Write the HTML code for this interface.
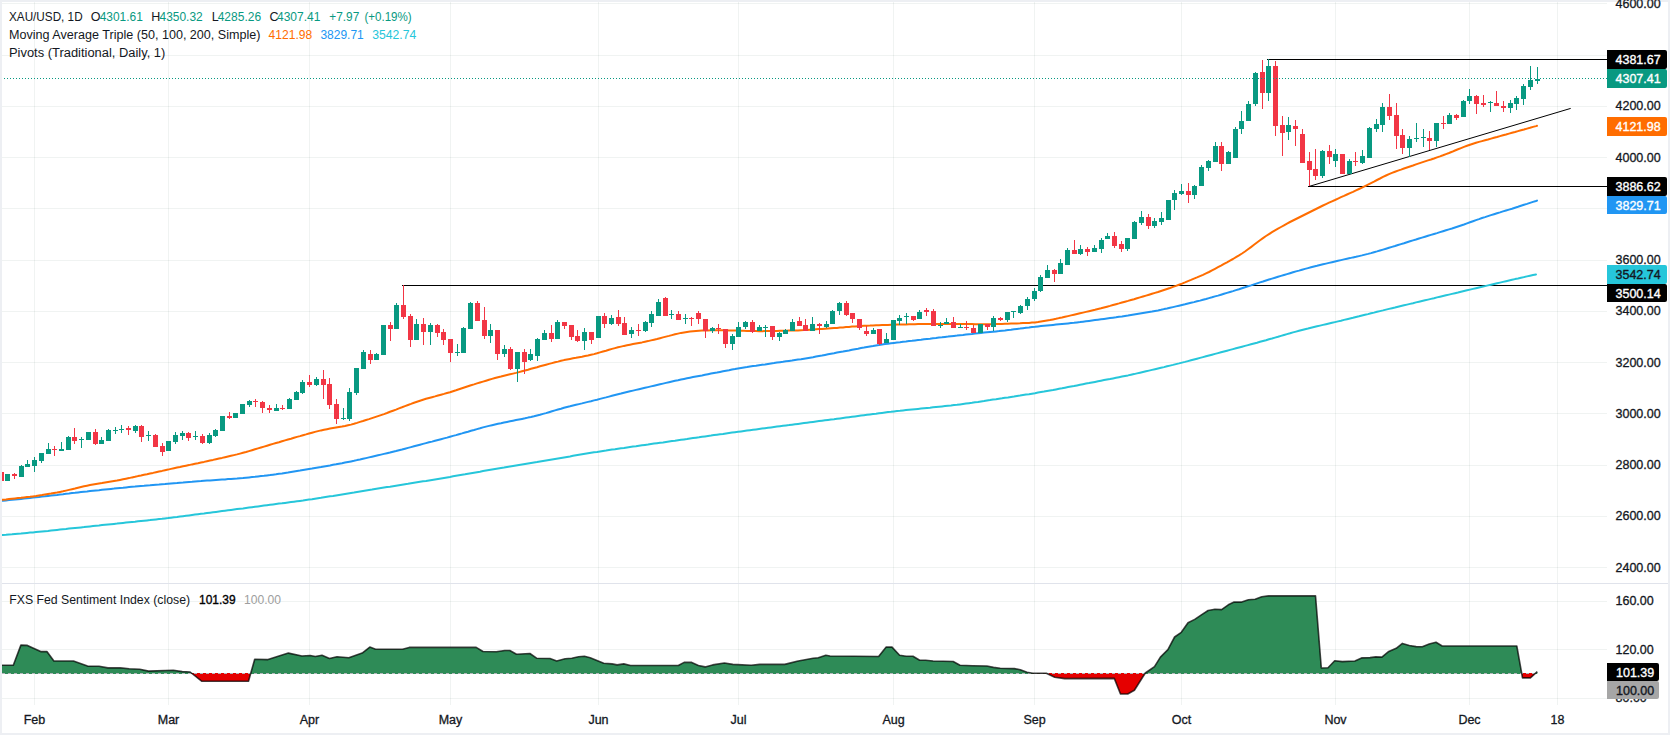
<!DOCTYPE html><html><head><meta charset="utf-8"><style>
html,body{margin:0;padding:0;background:#fff;}body{width:1670px;height:735px;overflow:hidden;}
svg{display:block;}text{font-family:"Liberation Sans", sans-serif;}
</style></head><body>
<svg width="1670" height="735" viewBox="0 0 1670 735">
<rect x="0" y="0" width="1670" height="735" fill="#fff"/>
<defs><clipPath id="main"><rect x="2" y="2" width="1605" height="581"/></clipPath>
<clipPath id="ind"><rect x="2" y="584" width="1605" height="121"/></clipPath></defs>
<g shape-rendering="crispEdges" fill="rgb(30,75,60)" fill-opacity="0.065">
<rect x="2" y="567" width="1605" height="1"/>
<rect x="2" y="516" width="1605" height="1"/>
<rect x="2" y="465" width="1605" height="1"/>
<rect x="2" y="413" width="1605" height="1"/>
<rect x="2" y="362" width="1605" height="1"/>
<rect x="2" y="311" width="1605" height="1"/>
<rect x="2" y="260" width="1605" height="1"/>
<rect x="2" y="208" width="1605" height="1"/>
<rect x="2" y="157" width="1605" height="1"/>
<rect x="2" y="106" width="1605" height="1"/>
<rect x="2" y="55" width="1605" height="1"/>
<rect x="2" y="3" width="1605" height="1"/>
<rect x="2" y="601" width="1605" height="1"/>
<rect x="2" y="649" width="1605" height="1"/>
<rect x="2" y="698" width="1605" height="1"/>
<rect x="34" y="2" width="1" height="703"/>
<rect x="168" y="2" width="1" height="703"/>
<rect x="309" y="2" width="1" height="703"/>
<rect x="450" y="2" width="1" height="703"/>
<rect x="598" y="2" width="1" height="703"/>
<rect x="738" y="2" width="1" height="703"/>
<rect x="893" y="2" width="1" height="703"/>
<rect x="1034" y="2" width="1" height="703"/>
<rect x="1181" y="2" width="1" height="703"/>
<rect x="1335" y="2" width="1" height="703"/>
<rect x="1469" y="2" width="1" height="703"/>
<rect x="1557" y="2" width="1" height="703"/>
</g>
<g clip-path="url(#main)" stroke="#000" stroke-width="1" fill="none">
<line x1="402" y1="285.5" x2="1607" y2="285.5" shape-rendering="crispEdges"/>
<line x1="1267" y1="59.5" x2="1607" y2="59.5" shape-rendering="crispEdges"/>
<line x1="1308" y1="186.5" x2="1607" y2="186.5" shape-rendering="crispEdges"/>
<line x1="1309.5" y1="186.3" x2="1570.7" y2="108.4"/>
</g>
<g clip-path="url(#main)" fill="none" stroke-width="2" stroke-linejoin="round" stroke-linecap="round">
<polyline points="0.0,535.3 3.0,535.0 6.0,534.8 9.0,534.5 12.0,534.3 15.0,534.0 18.0,533.7 21.0,533.5 24.0,533.2 27.0,532.9 30.0,532.6 33.0,532.4 36.0,532.1 39.0,531.8 42.0,531.5 45.0,531.2 48.0,530.9 51.0,530.5 54.0,530.2 57.0,529.9 60.0,529.6 63.0,529.3 66.0,529.0 69.0,528.6 72.0,528.3 75.0,528.0 78.0,527.7 81.0,527.4 84.0,527.1 87.0,526.7 90.0,526.4 93.0,526.1 96.0,525.8 99.0,525.5 102.0,525.1 105.0,524.8 108.0,524.5 111.0,524.2 114.0,523.9 117.0,523.6 120.0,523.2 123.0,522.9 126.0,522.6 129.0,522.3 132.0,522.0 135.0,521.7 138.0,521.3 141.0,521.0 144.0,520.7 147.0,520.4 150.0,520.1 153.0,519.7 156.0,519.4 159.0,519.1 162.0,518.8 165.0,518.4 168.0,518.1 171.0,517.7 174.0,517.3 177.0,517.0 180.0,516.6 183.0,516.2 186.0,515.8 189.0,515.4 192.0,515.0 195.0,514.6 198.0,514.2 201.0,513.8 204.0,513.5 207.0,513.1 210.0,512.7 213.0,512.3 216.0,511.9 219.0,511.5 222.0,511.1 225.0,510.7 228.0,510.3 231.0,509.9 234.0,509.5 237.0,509.1 240.0,508.7 243.0,508.4 246.0,508.0 249.0,507.6 252.0,507.2 255.0,506.8 258.0,506.4 261.0,506.0 264.0,505.6 267.0,505.2 270.0,504.8 273.0,504.4 276.0,504.0 279.0,503.6 282.0,503.3 285.0,502.9 288.0,502.5 291.0,502.1 294.0,501.7 297.0,501.3 300.0,500.9 303.0,500.5 306.0,500.0 309.0,499.6 312.0,499.2 315.0,498.7 318.0,498.2 321.0,497.8 324.0,497.3 327.0,496.8 330.0,496.3 333.0,495.9 336.0,495.4 339.0,494.9 342.0,494.4 345.0,493.9 348.0,493.4 351.0,492.9 354.0,492.5 357.0,492.0 360.0,491.5 363.0,491.0 366.0,490.5 369.0,490.0 372.0,489.6 375.0,489.1 378.0,488.6 381.0,488.1 384.0,487.6 387.0,487.1 390.0,486.7 393.0,486.2 396.0,485.7 399.0,485.2 402.0,484.7 405.0,484.2 408.0,483.8 411.0,483.3 414.0,482.8 417.0,482.3 420.0,481.8 423.0,481.3 426.0,480.9 429.0,480.4 432.0,479.9 435.0,479.4 438.0,478.9 441.0,478.4 444.0,477.9 447.0,477.4 450.0,476.9 453.0,476.3 456.0,475.8 459.0,475.3 462.0,474.8 465.0,474.3 468.0,473.7 471.0,473.2 474.0,472.7 477.0,472.2 480.0,471.7 483.0,471.1 486.0,470.6 489.0,470.1 492.0,469.6 495.0,469.1 498.0,468.6 501.0,468.1 504.0,467.6 507.0,467.0 510.0,466.5 513.0,466.0 516.0,465.5 519.0,465.0 522.0,464.5 525.0,464.0 528.0,463.5 531.0,463.0 534.0,462.5 537.0,462.0 540.0,461.4 543.0,460.9 546.0,460.4 549.0,459.9 552.0,459.4 555.0,458.9 558.0,458.4 561.0,457.9 564.0,457.4 567.0,456.9 570.0,456.4 573.0,455.8 576.0,455.3 579.0,454.8 582.0,454.3 585.0,453.8 588.0,453.3 591.0,452.8 594.0,452.3 597.0,451.9 600.0,451.4 603.0,450.9 606.0,450.5 609.0,450.0 612.0,449.6 615.0,449.2 618.0,448.7 621.0,448.3 624.0,447.9 627.0,447.4 630.0,447.0 633.0,446.6 636.0,446.2 639.0,445.7 642.0,445.3 645.0,444.9 648.0,444.5 651.0,444.0 654.0,443.6 657.0,443.2 660.0,442.8 663.0,442.4 666.0,441.9 669.0,441.5 672.0,441.1 675.0,440.7 678.0,440.2 681.0,439.8 684.0,439.4 687.0,439.0 690.0,438.5 693.0,438.1 696.0,437.7 699.0,437.3 702.0,436.8 705.0,436.4 708.0,436.0 711.0,435.6 714.0,435.1 717.0,434.7 720.0,434.3 723.0,433.9 726.0,433.4 729.0,433.0 732.0,432.6 735.0,432.2 738.0,431.8 741.0,431.4 744.0,431.0 747.0,430.6 750.0,430.2 753.0,429.8 756.0,429.4 759.0,429.0 762.0,428.6 765.0,428.2 768.0,427.8 771.0,427.4 774.0,427.0 777.0,426.6 780.0,426.2 783.0,425.8 786.0,425.4 789.0,425.1 792.0,424.7 795.0,424.3 798.0,423.9 801.0,423.5 804.0,423.1 807.0,422.7 810.0,422.3 813.0,421.9 816.0,421.5 819.0,421.1 822.0,420.7 825.0,420.3 828.0,419.9 831.0,419.5 834.0,419.2 837.0,418.8 840.0,418.4 843.0,418.0 846.0,417.6 849.0,417.2 852.0,416.8 855.0,416.4 858.0,416.0 861.0,415.6 864.0,415.2 867.0,414.8 870.0,414.4 873.0,414.0 876.0,413.7 879.0,413.3 882.0,412.9 885.0,412.5 888.0,412.1 891.0,411.8 894.0,411.4 897.0,411.1 900.0,410.8 903.0,410.4 906.0,410.1 909.0,409.8 912.0,409.5 915.0,409.2 918.0,408.9 921.0,408.6 924.0,408.3 927.0,408.0 930.0,407.7 933.0,407.3 936.0,407.0 939.0,406.7 942.0,406.4 945.0,406.1 948.0,405.8 951.0,405.5 954.0,405.1 957.0,404.8 960.0,404.4 963.0,404.0 966.0,403.6 969.0,403.2 972.0,402.8 975.0,402.3 978.0,401.9 981.0,401.4 984.0,401.0 987.0,400.5 990.0,400.1 993.0,399.6 996.0,399.2 999.0,398.7 1002.0,398.3 1005.0,397.8 1008.0,397.4 1011.0,396.9 1014.0,396.5 1017.0,396.0 1020.0,395.6 1023.0,395.1 1026.0,394.6 1029.0,394.2 1032.0,393.7 1035.0,393.2 1038.0,392.6 1041.0,392.1 1044.0,391.6 1047.0,391.0 1050.0,390.5 1053.0,390.0 1056.0,389.4 1059.0,388.8 1062.0,388.3 1065.0,387.7 1068.0,387.1 1071.0,386.5 1074.0,386.0 1077.0,385.4 1080.0,384.8 1083.0,384.2 1086.0,383.6 1089.0,383.1 1092.0,382.5 1095.0,381.9 1098.0,381.3 1101.0,380.7 1104.0,380.1 1107.0,379.5 1110.0,379.0 1113.0,378.4 1116.0,377.8 1119.0,377.2 1122.0,376.6 1125.0,376.0 1128.0,375.4 1131.0,374.7 1134.0,374.1 1137.0,373.4 1140.0,372.7 1143.0,372.0 1146.0,371.3 1149.0,370.6 1152.0,369.9 1155.0,369.2 1158.0,368.5 1161.0,367.8 1164.0,367.1 1167.0,366.3 1170.0,365.6 1173.0,364.9 1176.0,364.1 1179.0,363.4 1182.0,362.6 1185.0,361.9 1188.0,361.1 1191.0,360.3 1194.0,359.5 1197.0,358.7 1200.0,357.9 1203.0,357.1 1206.0,356.3 1209.0,355.5 1212.0,354.7 1215.0,353.9 1218.0,353.1 1221.0,352.3 1224.0,351.5 1227.0,350.7 1230.0,349.9 1233.0,349.1 1236.0,348.3 1239.0,347.5 1242.0,346.7 1245.0,345.9 1248.0,345.1 1251.0,344.3 1254.0,343.5 1257.0,342.7 1260.0,341.8 1263.0,341.0 1266.0,340.2 1269.0,339.3 1272.0,338.5 1275.0,337.6 1278.0,336.8 1281.0,335.9 1284.0,335.0 1287.0,334.1 1290.0,333.3 1293.0,332.4 1296.0,331.6 1299.0,330.8 1302.0,330.0 1305.0,329.2 1308.0,328.5 1311.0,327.7 1314.0,327.0 1317.0,326.3 1320.0,325.6 1323.0,324.9 1326.0,324.2 1329.0,323.5 1332.0,322.8 1335.0,322.1 1338.0,321.4 1341.0,320.7 1344.0,319.9 1347.0,319.2 1350.0,318.5 1353.0,317.8 1356.0,317.0 1359.0,316.3 1362.0,315.5 1365.0,314.8 1368.0,314.1 1371.0,313.3 1374.0,312.6 1377.0,311.8 1380.0,311.1 1383.0,310.4 1386.0,309.6 1389.0,308.9 1392.0,308.2 1395.0,307.5 1398.0,306.7 1401.0,306.0 1404.0,305.3 1407.0,304.6 1410.0,303.9 1413.0,303.2 1416.0,302.4 1419.0,301.7 1422.0,301.0 1425.0,300.3 1428.0,299.6 1431.0,298.9 1434.0,298.2 1437.0,297.4 1440.0,296.7 1443.0,296.0 1446.0,295.3 1449.0,294.6 1452.0,293.9 1455.0,293.2 1458.0,292.5 1461.0,291.7 1464.0,291.0 1467.0,290.3 1470.0,289.6 1473.0,288.9 1476.0,288.2 1479.0,287.5 1482.0,286.8 1485.0,286.1 1488.0,285.4 1491.0,284.7 1494.0,284.0 1497.0,283.3 1500.0,282.6 1503.0,281.9 1506.0,281.2 1509.0,280.5 1512.0,279.8 1515.0,279.1 1518.0,278.5 1521.0,277.8 1524.0,277.1 1527.0,276.4 1530.0,275.7 1533.0,275.0 1536.0,274.4" stroke="#26c6da"/>
<polyline points="0.0,501.0 3.0,500.7 6.0,500.4 9.0,500.1 12.0,499.8 15.0,499.5 18.0,499.2 21.0,498.9 24.0,498.6 27.0,498.3 30.0,498.0 33.0,497.6 36.0,497.3 39.0,497.0 42.0,496.6 45.0,496.3 48.0,495.9 51.0,495.6 54.0,495.2 57.0,494.9 60.0,494.5 63.0,494.2 66.0,493.8 69.0,493.5 72.0,493.1 75.0,492.8 78.0,492.4 81.0,492.1 84.0,491.8 87.0,491.5 90.0,491.1 93.0,490.8 96.0,490.5 99.0,490.2 102.0,489.8 105.0,489.5 108.0,489.2 111.0,488.9 114.0,488.6 117.0,488.2 120.0,487.9 123.0,487.7 126.0,487.4 129.0,487.1 132.0,486.8 135.0,486.6 138.0,486.3 141.0,486.0 144.0,485.8 147.0,485.5 150.0,485.3 153.0,485.0 156.0,484.7 159.0,484.5 162.0,484.2 165.0,484.0 168.0,483.7 171.0,483.4 174.0,483.2 177.0,483.0 180.0,482.7 183.0,482.5 186.0,482.2 189.0,482.0 192.0,481.8 195.0,481.5 198.0,481.3 201.0,481.1 204.0,480.8 207.0,480.6 210.0,480.4 213.0,480.2 216.0,480.0 219.0,479.8 222.0,479.6 225.0,479.4 228.0,479.1 231.0,478.9 234.0,478.7 237.0,478.5 240.0,478.2 243.0,478.0 246.0,477.7 249.0,477.4 252.0,477.1 255.0,476.8 258.0,476.4 261.0,476.1 264.0,475.8 267.0,475.4 270.0,475.1 273.0,474.7 276.0,474.3 279.0,473.8 282.0,473.4 285.0,472.9 288.0,472.5 291.0,472.0 294.0,471.5 297.0,471.0 300.0,470.6 303.0,470.1 306.0,469.6 309.0,469.1 312.0,468.6 315.0,468.0 318.0,467.5 321.0,467.0 324.0,466.4 327.0,465.9 330.0,465.4 333.0,464.8 336.0,464.3 339.0,463.7 342.0,463.2 345.0,462.6 348.0,462.0 351.0,461.4 354.0,460.8 357.0,460.1 360.0,459.5 363.0,458.8 366.0,458.1 369.0,457.4 372.0,456.7 375.0,456.0 378.0,455.3 381.0,454.6 384.0,453.9 387.0,453.2 390.0,452.5 393.0,451.7 396.0,451.0 399.0,450.2 402.0,449.5 405.0,448.7 408.0,447.9 411.0,447.1 414.0,446.3 417.0,445.5 420.0,444.7 423.0,443.9 426.0,443.1 429.0,442.3 432.0,441.6 435.0,440.8 438.0,440.0 441.0,439.2 444.0,438.4 447.0,437.6 450.0,436.7 453.0,435.9 456.0,435.1 459.0,434.2 462.0,433.4 465.0,432.5 468.0,431.7 471.0,430.8 474.0,430.0 477.0,429.1 480.0,428.3 483.0,427.4 486.0,426.6 489.0,425.9 492.0,425.2 495.0,424.5 498.0,423.8 501.0,423.2 504.0,422.5 507.0,421.9 510.0,421.3 513.0,420.7 516.0,420.1 519.0,419.5 522.0,418.9 525.0,418.3 528.0,417.6 531.0,417.0 534.0,416.3 537.0,415.5 540.0,414.8 543.0,413.9 546.0,413.1 549.0,412.2 552.0,411.3 555.0,410.4 558.0,409.5 561.0,408.7 564.0,407.8 567.0,407.0 570.0,406.3 573.0,405.5 576.0,404.8 579.0,404.1 582.0,403.4 585.0,402.6 588.0,401.9 591.0,401.2 594.0,400.4 597.0,399.7 600.0,398.9 603.0,398.1 606.0,397.4 609.0,396.6 612.0,395.8 615.0,395.0 618.0,394.2 621.0,393.5 624.0,392.7 627.0,392.0 630.0,391.3 633.0,390.6 636.0,389.9 639.0,389.2 642.0,388.5 645.0,387.8 648.0,387.1 651.0,386.4 654.0,385.7 657.0,385.0 660.0,384.3 663.0,383.6 666.0,382.9 669.0,382.2 672.0,381.5 675.0,380.8 678.0,380.2 681.0,379.5 684.0,378.9 687.0,378.3 690.0,377.7 693.0,377.1 696.0,376.5 699.0,375.9 702.0,375.4 705.0,374.8 708.0,374.2 711.0,373.6 714.0,373.0 717.0,372.5 720.0,371.9 723.0,371.3 726.0,370.7 729.0,370.2 732.0,369.6 735.0,369.1 738.0,368.5 741.0,368.0 744.0,367.5 747.0,367.1 750.0,366.6 753.0,366.1 756.0,365.7 759.0,365.2 762.0,364.8 765.0,364.4 768.0,363.9 771.0,363.5 774.0,363.1 777.0,362.6 780.0,362.2 783.0,361.8 786.0,361.3 789.0,360.9 792.0,360.5 795.0,360.0 798.0,359.6 801.0,359.2 804.0,358.7 807.0,358.2 810.0,357.7 813.0,357.2 816.0,356.6 819.0,356.0 822.0,355.5 825.0,354.9 828.0,354.3 831.0,353.7 834.0,353.2 837.0,352.6 840.0,352.0 843.0,351.5 846.0,350.9 849.0,350.4 852.0,349.8 855.0,349.2 858.0,348.7 861.0,348.1 864.0,347.6 867.0,347.0 870.0,346.5 873.0,346.0 876.0,345.4 879.0,345.0 882.0,344.5 885.0,344.1 888.0,343.7 891.0,343.3 894.0,342.9 897.0,342.5 900.0,342.2 903.0,341.8 906.0,341.5 909.0,341.1 912.0,340.8 915.0,340.4 918.0,340.0 921.0,339.7 924.0,339.3 927.0,339.0 930.0,338.7 933.0,338.3 936.0,338.0 939.0,337.6 942.0,337.3 945.0,336.9 948.0,336.6 951.0,336.2 954.0,335.9 957.0,335.6 960.0,335.2 963.0,334.9 966.0,334.5 969.0,334.2 972.0,333.9 975.0,333.5 978.0,333.2 981.0,332.9 984.0,332.6 987.0,332.3 990.0,332.0 993.0,331.7 996.0,331.4 999.0,331.1 1002.0,330.7 1005.0,330.4 1008.0,330.0 1011.0,329.7 1014.0,329.3 1017.0,328.9 1020.0,328.6 1023.0,328.2 1026.0,327.8 1029.0,327.5 1032.0,327.1 1035.0,326.8 1038.0,326.4 1041.0,326.1 1044.0,325.8 1047.0,325.5 1050.0,325.2 1053.0,324.9 1056.0,324.6 1059.0,324.3 1062.0,324.0 1065.0,323.7 1068.0,323.4 1071.0,323.1 1074.0,322.8 1077.0,322.4 1080.0,322.1 1083.0,321.7 1086.0,321.3 1089.0,320.9 1092.0,320.5 1095.0,320.1 1098.0,319.7 1101.0,319.3 1104.0,318.9 1107.0,318.5 1110.0,318.1 1113.0,317.7 1116.0,317.3 1119.0,316.8 1122.0,316.4 1125.0,315.9 1128.0,315.5 1131.0,315.0 1134.0,314.5 1137.0,314.0 1140.0,313.5 1143.0,313.0 1146.0,312.5 1149.0,312.0 1152.0,311.5 1155.0,310.9 1158.0,310.4 1161.0,309.8 1164.0,309.1 1167.0,308.5 1170.0,307.8 1173.0,307.1 1176.0,306.4 1179.0,305.7 1182.0,305.0 1185.0,304.3 1188.0,303.5 1191.0,302.8 1194.0,302.1 1197.0,301.3 1200.0,300.6 1203.0,299.8 1206.0,299.0 1209.0,298.1 1212.0,297.3 1215.0,296.4 1218.0,295.6 1221.0,294.7 1224.0,293.8 1227.0,292.9 1230.0,292.0 1233.0,291.1 1236.0,290.1 1239.0,289.2 1242.0,288.2 1245.0,287.3 1248.0,286.3 1251.0,285.4 1254.0,284.4 1257.0,283.4 1260.0,282.4 1263.0,281.5 1266.0,280.5 1269.0,279.5 1272.0,278.6 1275.0,277.7 1278.0,276.8 1281.0,275.9 1284.0,275.0 1287.0,274.1 1290.0,273.2 1293.0,272.3 1296.0,271.4 1299.0,270.6 1302.0,269.7 1305.0,268.9 1308.0,268.1 1311.0,267.3 1314.0,266.5 1317.0,265.8 1320.0,265.0 1323.0,264.3 1326.0,263.6 1329.0,262.9 1332.0,262.2 1335.0,261.5 1338.0,260.8 1341.0,260.1 1344.0,259.4 1347.0,258.7 1350.0,258.1 1353.0,257.4 1356.0,256.8 1359.0,256.1 1362.0,255.4 1365.0,254.6 1368.0,253.9 1371.0,253.1 1374.0,252.2 1377.0,251.4 1380.0,250.5 1383.0,249.6 1386.0,248.7 1389.0,247.8 1392.0,246.9 1395.0,246.0 1398.0,245.0 1401.0,244.1 1404.0,243.2 1407.0,242.2 1410.0,241.3 1413.0,240.4 1416.0,239.5 1419.0,238.5 1422.0,237.6 1425.0,236.7 1428.0,235.8 1431.0,234.9 1434.0,234.0 1437.0,233.1 1440.0,232.1 1443.0,231.2 1446.0,230.3 1449.0,229.4 1452.0,228.5 1455.0,227.5 1458.0,226.5 1461.0,225.5 1464.0,224.5 1467.0,223.4 1470.0,222.3 1473.0,221.2 1476.0,220.1 1479.0,219.1 1482.0,218.0 1485.0,217.1 1488.0,216.1 1491.0,215.1 1494.0,214.2 1497.0,213.3 1500.0,212.4 1503.0,211.4 1506.0,210.5 1509.0,209.6 1512.0,208.7 1515.0,207.7 1518.0,206.8 1521.0,205.8 1524.0,204.8 1527.0,203.9 1530.0,202.9 1533.0,201.9 1536.0,201.0 1537.0,200.6" stroke="#2196f3"/>
<polyline points="0.0,500.0 3.0,499.7 6.0,499.4 9.0,499.0 12.0,498.7 15.0,498.4 18.0,498.1 21.0,497.8 24.0,497.4 27.0,497.1 30.0,496.8 33.0,496.4 36.0,496.0 39.0,495.5 42.0,495.1 45.0,494.6 48.0,494.1 51.0,493.6 54.0,493.0 57.0,492.5 60.0,491.9 63.0,491.3 66.0,490.6 69.0,489.9 72.0,489.2 75.0,488.5 78.0,487.7 81.0,487.0 84.0,486.3 87.0,485.7 90.0,485.1 93.0,484.5 96.0,483.9 99.0,483.4 102.0,483.0 105.0,482.5 108.0,482.0 111.0,481.5 114.0,481.0 117.0,480.5 120.0,479.9 123.0,479.3 126.0,478.7 129.0,478.1 132.0,477.4 135.0,476.8 138.0,476.1 141.0,475.5 144.0,474.8 147.0,474.2 150.0,473.5 153.0,472.9 156.0,472.2 159.0,471.5 162.0,470.9 165.0,470.2 168.0,469.6 171.0,468.9 174.0,468.2 177.0,467.6 180.0,467.0 183.0,466.3 186.0,465.7 189.0,465.1 192.0,464.4 195.0,463.8 198.0,463.2 201.0,462.5 204.0,461.9 207.0,461.2 210.0,460.5 213.0,459.9 216.0,459.2 219.0,458.5 222.0,457.9 225.0,457.2 228.0,456.5 231.0,455.8 234.0,455.1 237.0,454.4 240.0,453.6 243.0,452.8 246.0,452.0 249.0,451.1 252.0,450.2 255.0,449.3 258.0,448.4 261.0,447.5 264.0,446.6 267.0,445.7 270.0,444.8 273.0,443.9 276.0,443.0 279.0,442.2 282.0,441.3 285.0,440.4 288.0,439.5 291.0,438.7 294.0,437.8 297.0,436.9 300.0,436.1 303.0,435.2 306.0,434.4 309.0,433.5 312.0,432.7 315.0,431.9 318.0,431.1 321.0,430.4 324.0,429.8 327.0,429.2 330.0,428.6 333.0,428.1 336.0,427.6 339.0,427.1 342.0,426.6 345.0,426.0 348.0,425.3 351.0,424.6 354.0,423.8 357.0,422.9 360.0,421.9 363.0,421.0 366.0,420.0 369.0,419.1 372.0,418.1 375.0,417.1 378.0,416.1 381.0,415.1 384.0,414.1 387.0,413.0 390.0,411.8 393.0,410.7 396.0,409.6 399.0,408.4 402.0,407.3 405.0,406.1 408.0,405.0 411.0,403.9 414.0,402.7 417.0,401.7 420.0,400.7 423.0,399.7 426.0,398.8 429.0,398.0 432.0,397.2 435.0,396.4 438.0,395.5 441.0,394.7 444.0,393.9 447.0,393.0 450.0,392.2 453.0,391.2 456.0,390.3 459.0,389.3 462.0,388.3 465.0,387.3 468.0,386.3 471.0,385.3 474.0,384.4 477.0,383.4 480.0,382.5 483.0,381.6 486.0,380.7 489.0,379.8 492.0,378.9 495.0,378.0 498.0,377.2 501.0,376.5 504.0,375.7 507.0,375.0 510.0,374.3 513.0,373.6 516.0,372.9 519.0,372.1 522.0,371.3 525.0,370.5 528.0,369.7 531.0,368.8 534.0,368.0 537.0,367.2 540.0,366.3 543.0,365.5 546.0,364.7 549.0,363.9 552.0,363.1 555.0,362.3 558.0,361.6 561.0,360.8 564.0,360.1 567.0,359.5 570.0,358.9 573.0,358.3 576.0,357.8 579.0,357.2 582.0,356.7 585.0,356.1 588.0,355.5 591.0,354.8 594.0,354.1 597.0,353.3 600.0,352.4 603.0,351.5 606.0,350.7 609.0,349.8 612.0,348.9 615.0,348.1 618.0,347.3 621.0,346.6 624.0,345.9 627.0,345.3 630.0,344.7 633.0,344.1 636.0,343.5 639.0,342.9 642.0,342.4 645.0,341.7 648.0,341.1 651.0,340.4 654.0,339.7 657.0,339.0 660.0,338.2 663.0,337.4 666.0,336.6 669.0,335.9 672.0,335.1 675.0,334.3 678.0,333.6 681.0,332.9 684.0,332.4 687.0,331.9 690.0,331.5 693.0,331.2 696.0,331.0 699.0,330.8 702.0,330.6 705.0,330.5 708.0,330.4 711.0,330.3 714.0,330.3 717.0,330.3 720.0,330.3 723.0,330.3 726.0,330.3 729.0,330.4 732.0,330.4 735.0,330.5 738.0,330.6 741.0,330.7 744.0,330.8 747.0,330.9 750.0,331.0 753.0,331.1 756.0,331.1 759.0,331.2 762.0,331.2 765.0,331.1 768.0,331.1 771.0,331.0 774.0,330.9 777.0,330.9 780.0,330.8 783.0,330.7 786.0,330.7 789.0,330.6 792.0,330.5 795.0,330.4 798.0,330.4 801.0,330.2 804.0,330.1 807.0,329.9 810.0,329.7 813.0,329.5 816.0,329.3 819.0,329.1 822.0,328.9 825.0,328.7 828.0,328.5 831.0,328.3 834.0,328.1 837.0,327.9 840.0,327.6 843.0,327.4 846.0,327.1 849.0,326.9 852.0,326.6 855.0,326.4 858.0,326.2 861.0,326.0 864.0,325.8 867.0,325.7 870.0,325.6 873.0,325.4 876.0,325.3 879.0,325.2 882.0,325.1 885.0,325.0 888.0,324.9 891.0,324.8 894.0,324.7 897.0,324.6 900.0,324.5 903.0,324.4 906.0,324.4 909.0,324.3 912.0,324.2 915.0,324.2 918.0,324.1 921.0,324.0 924.0,324.0 927.0,323.9 930.0,323.9 933.0,323.9 936.0,323.9 939.0,323.9 942.0,323.9 945.0,323.9 948.0,323.9 951.0,324.0 954.0,324.0 957.0,324.0 960.0,324.0 963.0,324.1 966.0,324.1 969.0,324.1 972.0,324.1 975.0,324.2 978.0,324.2 981.0,324.2 984.0,324.2 987.0,324.2 990.0,324.2 993.0,324.2 996.0,324.1 999.0,324.0 1002.0,323.9 1005.0,323.8 1008.0,323.7 1011.0,323.6 1014.0,323.5 1017.0,323.4 1020.0,323.3 1023.0,323.1 1026.0,323.0 1029.0,322.9 1032.0,322.6 1035.0,322.4 1038.0,322.0 1041.0,321.5 1044.0,321.0 1047.0,320.5 1050.0,320.0 1053.0,319.4 1056.0,318.8 1059.0,318.1 1062.0,317.5 1065.0,316.8 1068.0,316.1 1071.0,315.4 1074.0,314.7 1077.0,314.0 1080.0,313.3 1083.0,312.6 1086.0,311.9 1089.0,311.2 1092.0,310.5 1095.0,309.8 1098.0,309.0 1101.0,308.3 1104.0,307.5 1107.0,306.7 1110.0,305.9 1113.0,305.0 1116.0,304.2 1119.0,303.4 1122.0,302.5 1125.0,301.7 1128.0,300.9 1131.0,300.0 1134.0,299.2 1137.0,298.3 1140.0,297.4 1143.0,296.5 1146.0,295.6 1149.0,294.7 1152.0,293.8 1155.0,292.9 1158.0,292.0 1161.0,291.0 1164.0,290.0 1167.0,289.0 1170.0,288.0 1173.0,286.9 1176.0,285.9 1179.0,284.7 1182.0,283.6 1185.0,282.4 1188.0,281.1 1191.0,279.9 1194.0,278.6 1197.0,277.4 1200.0,276.1 1203.0,274.8 1206.0,273.4 1209.0,272.0 1212.0,270.4 1215.0,268.8 1218.0,267.2 1221.0,265.6 1224.0,263.9 1227.0,262.3 1230.0,260.6 1233.0,259.0 1236.0,257.2 1239.0,255.4 1242.0,253.5 1245.0,251.5 1248.0,249.3 1251.0,247.1 1254.0,244.8 1257.0,242.5 1260.0,240.3 1263.0,238.1 1266.0,236.0 1269.0,234.1 1272.0,232.2 1275.0,230.4 1278.0,228.7 1281.0,227.0 1284.0,225.3 1287.0,223.6 1290.0,222.0 1293.0,220.5 1296.0,219.0 1299.0,217.5 1302.0,216.0 1305.0,214.5 1308.0,213.0 1311.0,211.5 1314.0,210.0 1317.0,208.5 1320.0,207.0 1323.0,205.5 1326.0,204.1 1329.0,202.7 1332.0,201.3 1335.0,200.0 1338.0,198.6 1341.0,197.2 1344.0,195.9 1347.0,194.5 1350.0,193.1 1353.0,191.8 1356.0,190.4 1359.0,189.0 1362.0,187.6 1365.0,186.1 1368.0,184.6 1371.0,183.1 1374.0,181.6 1377.0,180.0 1380.0,178.5 1383.0,176.9 1386.0,175.5 1389.0,174.1 1392.0,172.9 1395.0,171.7 1398.0,170.6 1401.0,169.6 1404.0,168.5 1407.0,167.5 1410.0,166.5 1413.0,165.5 1416.0,164.4 1419.0,163.4 1422.0,162.4 1425.0,161.4 1428.0,160.4 1431.0,159.5 1434.0,158.5 1437.0,157.4 1440.0,156.4 1443.0,155.3 1446.0,154.1 1449.0,153.0 1452.0,151.8 1455.0,150.5 1458.0,149.3 1461.0,148.1 1464.0,146.9 1467.0,145.8 1470.0,144.7 1473.0,143.7 1476.0,142.8 1479.0,141.9 1482.0,141.1 1485.0,140.3 1488.0,139.5 1491.0,138.6 1494.0,137.8 1497.0,137.0 1500.0,136.1 1503.0,135.3 1506.0,134.5 1509.0,133.6 1512.0,132.8 1515.0,132.0 1518.0,131.1 1521.0,130.3 1524.0,129.5 1527.0,128.6 1530.0,127.8 1533.0,126.9 1536.0,126.1 1537.0,125.8" stroke="#ff6d00"/>
</g>
<g clip-path="url(#main)" shape-rendering="crispEdges">
<rect x="1" y="470" width="1" height="12" fill="#f23645"/>
<rect x="-1" y="472" width="5" height="9" fill="#f23645"/>
<rect x="7" y="474" width="1" height="7" fill="#089981"/>
<rect x="5" y="474" width="5" height="7" fill="#089981"/>
<rect x="14" y="473" width="1" height="6" fill="#f23645"/>
<rect x="12" y="474" width="5" height="2" fill="#f23645"/>
<rect x="21" y="465" width="1" height="12" fill="#089981"/>
<rect x="19" y="466" width="5" height="11" fill="#089981"/>
<rect x="27" y="460" width="1" height="7" fill="#089981"/>
<rect x="25" y="464" width="5" height="3" fill="#089981"/>
<rect x="34" y="457" width="1" height="15" fill="#089981"/>
<rect x="32" y="460" width="5" height="6" fill="#089981"/>
<rect x="41" y="453" width="1" height="10" fill="#089981"/>
<rect x="39" y="453" width="5" height="8" fill="#089981"/>
<rect x="48" y="443" width="1" height="11" fill="#089981"/>
<rect x="46" y="449" width="5" height="5" fill="#089981"/>
<rect x="54" y="446" width="1" height="10" fill="#f23645"/>
<rect x="52" y="449" width="5" height="1" fill="#f23645"/>
<rect x="61" y="442" width="1" height="9" fill="#089981"/>
<rect x="59" y="449" width="5" height="2" fill="#089981"/>
<rect x="68" y="436" width="1" height="14" fill="#089981"/>
<rect x="66" y="437" width="5" height="13" fill="#089981"/>
<rect x="74" y="428" width="1" height="16" fill="#f23645"/>
<rect x="72" y="437" width="5" height="4" fill="#f23645"/>
<rect x="81" y="437" width="1" height="11" fill="#089981"/>
<rect x="79" y="439" width="5" height="1" fill="#089981"/>
<rect x="88" y="432" width="1" height="8" fill="#089981"/>
<rect x="86" y="432" width="5" height="8" fill="#089981"/>
<rect x="95" y="429" width="1" height="16" fill="#f23645"/>
<rect x="93" y="432" width="5" height="12" fill="#f23645"/>
<rect x="101" y="437" width="1" height="7" fill="#089981"/>
<rect x="99" y="440" width="5" height="4" fill="#089981"/>
<rect x="108" y="429" width="1" height="12" fill="#089981"/>
<rect x="106" y="430" width="5" height="11" fill="#089981"/>
<rect x="115" y="427" width="1" height="7" fill="#089981"/>
<rect x="113" y="430" width="5" height="1" fill="#089981"/>
<rect x="121" y="425" width="1" height="8" fill="#089981"/>
<rect x="119" y="429" width="5" height="1" fill="#089981"/>
<rect x="128" y="426" width="1" height="9" fill="#f23645"/>
<rect x="126" y="428" width="5" height="2" fill="#f23645"/>
<rect x="135" y="425" width="1" height="8" fill="#089981"/>
<rect x="133" y="426" width="5" height="5" fill="#089981"/>
<rect x="141" y="425" width="1" height="17" fill="#f23645"/>
<rect x="139" y="426" width="5" height="11" fill="#f23645"/>
<rect x="148" y="431" width="1" height="10" fill="#089981"/>
<rect x="146" y="435" width="5" height="1" fill="#089981"/>
<rect x="155" y="434" width="1" height="13" fill="#f23645"/>
<rect x="153" y="435" width="5" height="12" fill="#f23645"/>
<rect x="162" y="443" width="1" height="13" fill="#f23645"/>
<rect x="160" y="446" width="5" height="6" fill="#f23645"/>
<rect x="168" y="441" width="1" height="10" fill="#089981"/>
<rect x="166" y="441" width="5" height="10" fill="#089981"/>
<rect x="175" y="432" width="1" height="12" fill="#089981"/>
<rect x="173" y="435" width="5" height="7" fill="#089981"/>
<rect x="182" y="431" width="1" height="9" fill="#089981"/>
<rect x="180" y="433" width="5" height="3" fill="#089981"/>
<rect x="188" y="432" width="1" height="9" fill="#f23645"/>
<rect x="186" y="433" width="5" height="5" fill="#f23645"/>
<rect x="195" y="431" width="1" height="9" fill="#089981"/>
<rect x="193" y="436" width="5" height="1" fill="#089981"/>
<rect x="202" y="434" width="1" height="10" fill="#f23645"/>
<rect x="200" y="436" width="5" height="7" fill="#f23645"/>
<rect x="209" y="433" width="1" height="11" fill="#089981"/>
<rect x="207" y="435" width="5" height="8" fill="#089981"/>
<rect x="215" y="429" width="1" height="8" fill="#089981"/>
<rect x="213" y="430" width="5" height="6" fill="#089981"/>
<rect x="222" y="416" width="1" height="15" fill="#089981"/>
<rect x="220" y="416" width="5" height="15" fill="#089981"/>
<rect x="229" y="412" width="1" height="7" fill="#f23645"/>
<rect x="227" y="416" width="5" height="2" fill="#f23645"/>
<rect x="235" y="413" width="1" height="5" fill="#089981"/>
<rect x="233" y="413" width="5" height="5" fill="#089981"/>
<rect x="242" y="404" width="1" height="10" fill="#089981"/>
<rect x="240" y="404" width="5" height="10" fill="#089981"/>
<rect x="249" y="400" width="1" height="7" fill="#089981"/>
<rect x="247" y="401" width="5" height="4" fill="#089981"/>
<rect x="255" y="399" width="1" height="8" fill="#f23645"/>
<rect x="253" y="401" width="5" height="1" fill="#f23645"/>
<rect x="262" y="401" width="1" height="12" fill="#f23645"/>
<rect x="260" y="402" width="5" height="6" fill="#f23645"/>
<rect x="269" y="405" width="1" height="8" fill="#f23645"/>
<rect x="267" y="408" width="5" height="2" fill="#f23645"/>
<rect x="276" y="404" width="1" height="7" fill="#089981"/>
<rect x="274" y="408" width="5" height="3" fill="#089981"/>
<rect x="282" y="405" width="1" height="5" fill="#f23645"/>
<rect x="280" y="408" width="5" height="1" fill="#f23645"/>
<rect x="289" y="398" width="1" height="11" fill="#089981"/>
<rect x="287" y="399" width="5" height="10" fill="#089981"/>
<rect x="296" y="391" width="1" height="9" fill="#089981"/>
<rect x="294" y="392" width="5" height="8" fill="#089981"/>
<rect x="302" y="380" width="1" height="14" fill="#089981"/>
<rect x="300" y="382" width="5" height="11" fill="#089981"/>
<rect x="309" y="375" width="1" height="12" fill="#f23645"/>
<rect x="307" y="382" width="5" height="3" fill="#f23645"/>
<rect x="316" y="377" width="1" height="9" fill="#089981"/>
<rect x="314" y="379" width="5" height="6" fill="#089981"/>
<rect x="323" y="370" width="1" height="29" fill="#f23645"/>
<rect x="321" y="379" width="5" height="6" fill="#f23645"/>
<rect x="329" y="378" width="1" height="31" fill="#f23645"/>
<rect x="327" y="384" width="5" height="21" fill="#f23645"/>
<rect x="336" y="399" width="1" height="25" fill="#f23645"/>
<rect x="334" y="404" width="5" height="15" fill="#f23645"/>
<rect x="343" y="408" width="1" height="12" fill="#089981"/>
<rect x="341" y="418" width="5" height="1" fill="#089981"/>
<rect x="349" y="388" width="1" height="33" fill="#089981"/>
<rect x="347" y="392" width="5" height="27" fill="#089981"/>
<rect x="356" y="368" width="1" height="27" fill="#089981"/>
<rect x="354" y="368" width="5" height="25" fill="#089981"/>
<rect x="363" y="350" width="1" height="19" fill="#089981"/>
<rect x="361" y="352" width="5" height="17" fill="#089981"/>
<rect x="370" y="350" width="1" height="14" fill="#f23645"/>
<rect x="368" y="354" width="5" height="6" fill="#f23645"/>
<rect x="376" y="353" width="1" height="7" fill="#089981"/>
<rect x="374" y="354" width="5" height="6" fill="#089981"/>
<rect x="383" y="325" width="1" height="30" fill="#089981"/>
<rect x="381" y="325" width="5" height="30" fill="#089981"/>
<rect x="390" y="322" width="1" height="19" fill="#f23645"/>
<rect x="388" y="325" width="5" height="4" fill="#f23645"/>
<rect x="396" y="303" width="1" height="26" fill="#089981"/>
<rect x="394" y="305" width="5" height="24" fill="#089981"/>
<rect x="403" y="285" width="1" height="34" fill="#f23645"/>
<rect x="401" y="305" width="5" height="12" fill="#f23645"/>
<rect x="410" y="314" width="1" height="33" fill="#f23645"/>
<rect x="408" y="316" width="5" height="24" fill="#f23645"/>
<rect x="416" y="319" width="1" height="21" fill="#089981"/>
<rect x="414" y="324" width="5" height="16" fill="#089981"/>
<rect x="423" y="318" width="1" height="27" fill="#f23645"/>
<rect x="421" y="324" width="5" height="8" fill="#f23645"/>
<rect x="430" y="323" width="1" height="22" fill="#089981"/>
<rect x="428" y="325" width="5" height="7" fill="#089981"/>
<rect x="437" y="324" width="1" height="13" fill="#f23645"/>
<rect x="435" y="325" width="5" height="8" fill="#f23645"/>
<rect x="443" y="329" width="1" height="16" fill="#f23645"/>
<rect x="441" y="332" width="5" height="8" fill="#f23645"/>
<rect x="450" y="339" width="1" height="23" fill="#f23645"/>
<rect x="448" y="339" width="5" height="14" fill="#f23645"/>
<rect x="457" y="344" width="1" height="12" fill="#089981"/>
<rect x="455" y="352" width="5" height="1" fill="#089981"/>
<rect x="463" y="327" width="1" height="26" fill="#089981"/>
<rect x="461" y="328" width="5" height="25" fill="#089981"/>
<rect x="470" y="302" width="1" height="27" fill="#089981"/>
<rect x="468" y="303" width="5" height="26" fill="#089981"/>
<rect x="477" y="301" width="1" height="20" fill="#f23645"/>
<rect x="475" y="303" width="5" height="18" fill="#f23645"/>
<rect x="484" y="307" width="1" height="32" fill="#f23645"/>
<rect x="482" y="320" width="5" height="16" fill="#f23645"/>
<rect x="490" y="324" width="1" height="19" fill="#089981"/>
<rect x="488" y="330" width="5" height="6" fill="#089981"/>
<rect x="497" y="330" width="1" height="30" fill="#f23645"/>
<rect x="495" y="330" width="5" height="24" fill="#f23645"/>
<rect x="504" y="345" width="1" height="12" fill="#089981"/>
<rect x="502" y="349" width="5" height="5" fill="#089981"/>
<rect x="510" y="347" width="1" height="23" fill="#f23645"/>
<rect x="508" y="349" width="5" height="20" fill="#f23645"/>
<rect x="517" y="352" width="1" height="30" fill="#089981"/>
<rect x="515" y="352" width="5" height="17" fill="#089981"/>
<rect x="524" y="349" width="1" height="25" fill="#f23645"/>
<rect x="522" y="352" width="5" height="10" fill="#f23645"/>
<rect x="530" y="349" width="1" height="12" fill="#089981"/>
<rect x="528" y="354" width="5" height="6" fill="#089981"/>
<rect x="537" y="338" width="1" height="23" fill="#089981"/>
<rect x="535" y="339" width="5" height="17" fill="#089981"/>
<rect x="544" y="330" width="1" height="10" fill="#089981"/>
<rect x="542" y="333" width="5" height="7" fill="#089981"/>
<rect x="551" y="325" width="1" height="17" fill="#f23645"/>
<rect x="549" y="333" width="5" height="6" fill="#f23645"/>
<rect x="557" y="320" width="1" height="19" fill="#089981"/>
<rect x="555" y="322" width="5" height="17" fill="#089981"/>
<rect x="564" y="322" width="1" height="7" fill="#f23645"/>
<rect x="562" y="322" width="5" height="4" fill="#f23645"/>
<rect x="571" y="325" width="1" height="15" fill="#f23645"/>
<rect x="569" y="325" width="5" height="12" fill="#f23645"/>
<rect x="577" y="330" width="1" height="12" fill="#f23645"/>
<rect x="575" y="336" width="5" height="5" fill="#f23645"/>
<rect x="584" y="328" width="1" height="22" fill="#089981"/>
<rect x="582" y="332" width="5" height="9" fill="#089981"/>
<rect x="591" y="332" width="1" height="12" fill="#f23645"/>
<rect x="589" y="332" width="5" height="8" fill="#f23645"/>
<rect x="598" y="316" width="1" height="22" fill="#089981"/>
<rect x="596" y="316" width="5" height="22" fill="#089981"/>
<rect x="604" y="313" width="1" height="15" fill="#f23645"/>
<rect x="602" y="316" width="5" height="8" fill="#f23645"/>
<rect x="611" y="315" width="1" height="10" fill="#089981"/>
<rect x="609" y="318" width="5" height="6" fill="#089981"/>
<rect x="618" y="310" width="1" height="16" fill="#f23645"/>
<rect x="616" y="317" width="5" height="7" fill="#f23645"/>
<rect x="624" y="317" width="1" height="18" fill="#f23645"/>
<rect x="622" y="323" width="5" height="12" fill="#f23645"/>
<rect x="631" y="327" width="1" height="11" fill="#089981"/>
<rect x="629" y="330" width="5" height="4" fill="#089981"/>
<rect x="638" y="324" width="1" height="12" fill="#f23645"/>
<rect x="636" y="330" width="5" height="1" fill="#f23645"/>
<rect x="645" y="321" width="1" height="11" fill="#089981"/>
<rect x="643" y="322" width="5" height="9" fill="#089981"/>
<rect x="651" y="311" width="1" height="16" fill="#089981"/>
<rect x="649" y="314" width="5" height="9" fill="#089981"/>
<rect x="658" y="299" width="1" height="17" fill="#089981"/>
<rect x="656" y="302" width="5" height="14" fill="#089981"/>
<rect x="665" y="297" width="1" height="19" fill="#f23645"/>
<rect x="663" y="298" width="5" height="18" fill="#f23645"/>
<rect x="671" y="310" width="1" height="9" fill="#089981"/>
<rect x="669" y="314" width="5" height="1" fill="#089981"/>
<rect x="678" y="311" width="1" height="9" fill="#f23645"/>
<rect x="676" y="314" width="5" height="6" fill="#f23645"/>
<rect x="685" y="314" width="1" height="10" fill="#089981"/>
<rect x="683" y="318" width="5" height="1" fill="#089981"/>
<rect x="691" y="317" width="1" height="9" fill="#f23645"/>
<rect x="689" y="318" width="5" height="1" fill="#f23645"/>
<rect x="698" y="311" width="1" height="13" fill="#f23645"/>
<rect x="696" y="313" width="5" height="6" fill="#f23645"/>
<rect x="705" y="319" width="1" height="19" fill="#f23645"/>
<rect x="703" y="319" width="5" height="12" fill="#f23645"/>
<rect x="712" y="327" width="1" height="6" fill="#089981"/>
<rect x="710" y="328" width="5" height="3" fill="#089981"/>
<rect x="718" y="324" width="1" height="10" fill="#f23645"/>
<rect x="716" y="328" width="5" height="1" fill="#f23645"/>
<rect x="725" y="329" width="1" height="19" fill="#f23645"/>
<rect x="723" y="329" width="5" height="15" fill="#f23645"/>
<rect x="732" y="334" width="1" height="16" fill="#089981"/>
<rect x="730" y="336" width="5" height="8" fill="#089981"/>
<rect x="738" y="322" width="1" height="15" fill="#089981"/>
<rect x="736" y="327" width="5" height="10" fill="#089981"/>
<rect x="745" y="321" width="1" height="8" fill="#089981"/>
<rect x="743" y="322" width="5" height="5" fill="#089981"/>
<rect x="752" y="320" width="1" height="13" fill="#f23645"/>
<rect x="750" y="322" width="5" height="10" fill="#f23645"/>
<rect x="759" y="325" width="1" height="6" fill="#089981"/>
<rect x="757" y="327" width="5" height="4" fill="#089981"/>
<rect x="765" y="325" width="1" height="12" fill="#089981"/>
<rect x="763" y="327" width="5" height="1" fill="#089981"/>
<rect x="772" y="326" width="1" height="14" fill="#f23645"/>
<rect x="770" y="326" width="5" height="11" fill="#f23645"/>
<rect x="779" y="332" width="1" height="9" fill="#089981"/>
<rect x="777" y="333" width="5" height="4" fill="#089981"/>
<rect x="785" y="329" width="1" height="5" fill="#089981"/>
<rect x="783" y="330" width="5" height="4" fill="#089981"/>
<rect x="792" y="319" width="1" height="12" fill="#089981"/>
<rect x="790" y="322" width="5" height="9" fill="#089981"/>
<rect x="799" y="317" width="1" height="9" fill="#f23645"/>
<rect x="797" y="321" width="5" height="5" fill="#f23645"/>
<rect x="805" y="319" width="1" height="12" fill="#f23645"/>
<rect x="803" y="325" width="5" height="6" fill="#f23645"/>
<rect x="812" y="317" width="1" height="14" fill="#089981"/>
<rect x="810" y="324" width="5" height="7" fill="#089981"/>
<rect x="819" y="323" width="1" height="11" fill="#f23645"/>
<rect x="817" y="324" width="5" height="2" fill="#f23645"/>
<rect x="826" y="321" width="1" height="7" fill="#089981"/>
<rect x="824" y="324" width="5" height="3" fill="#089981"/>
<rect x="832" y="310" width="1" height="14" fill="#089981"/>
<rect x="830" y="311" width="5" height="13" fill="#089981"/>
<rect x="839" y="302" width="1" height="13" fill="#089981"/>
<rect x="837" y="303" width="5" height="8" fill="#089981"/>
<rect x="846" y="301" width="1" height="15" fill="#f23645"/>
<rect x="844" y="303" width="5" height="12" fill="#f23645"/>
<rect x="852" y="313" width="1" height="10" fill="#f23645"/>
<rect x="850" y="313" width="5" height="6" fill="#f23645"/>
<rect x="859" y="319" width="1" height="11" fill="#f23645"/>
<rect x="857" y="319" width="5" height="9" fill="#f23645"/>
<rect x="866" y="326" width="1" height="10" fill="#f23645"/>
<rect x="864" y="331" width="5" height="3" fill="#f23645"/>
<rect x="873" y="328" width="1" height="6" fill="#089981"/>
<rect x="871" y="330" width="5" height="4" fill="#089981"/>
<rect x="879" y="329" width="1" height="16" fill="#f23645"/>
<rect x="877" y="329" width="5" height="15" fill="#f23645"/>
<rect x="886" y="333" width="1" height="10" fill="#089981"/>
<rect x="884" y="339" width="5" height="4" fill="#089981"/>
<rect x="893" y="320" width="1" height="20" fill="#089981"/>
<rect x="891" y="320" width="5" height="20" fill="#089981"/>
<rect x="899" y="315" width="1" height="10" fill="#089981"/>
<rect x="897" y="318" width="5" height="3" fill="#089981"/>
<rect x="906" y="313" width="1" height="11" fill="#089981"/>
<rect x="904" y="316" width="5" height="1" fill="#089981"/>
<rect x="913" y="316" width="1" height="5" fill="#f23645"/>
<rect x="911" y="316" width="5" height="4" fill="#f23645"/>
<rect x="919" y="310" width="1" height="9" fill="#089981"/>
<rect x="917" y="312" width="5" height="7" fill="#089981"/>
<rect x="926" y="308" width="1" height="8" fill="#f23645"/>
<rect x="924" y="310" width="5" height="2" fill="#f23645"/>
<rect x="933" y="309" width="1" height="17" fill="#f23645"/>
<rect x="931" y="311" width="5" height="15" fill="#f23645"/>
<rect x="940" y="322" width="1" height="6" fill="#089981"/>
<rect x="938" y="325" width="5" height="1" fill="#089981"/>
<rect x="946" y="318" width="1" height="6" fill="#089981"/>
<rect x="944" y="322" width="5" height="2" fill="#089981"/>
<rect x="953" y="317" width="1" height="11" fill="#f23645"/>
<rect x="951" y="322" width="5" height="6" fill="#f23645"/>
<rect x="960" y="324" width="1" height="4" fill="#089981"/>
<rect x="958" y="327" width="5" height="1" fill="#089981"/>
<rect x="966" y="321" width="1" height="9" fill="#f23645"/>
<rect x="964" y="327" width="5" height="1" fill="#f23645"/>
<rect x="973" y="325" width="1" height="8" fill="#f23645"/>
<rect x="971" y="328" width="5" height="5" fill="#f23645"/>
<rect x="980" y="324" width="1" height="9" fill="#089981"/>
<rect x="978" y="324" width="5" height="9" fill="#089981"/>
<rect x="987" y="324" width="1" height="6" fill="#f23645"/>
<rect x="985" y="324" width="5" height="3" fill="#f23645"/>
<rect x="993" y="316" width="1" height="15" fill="#089981"/>
<rect x="991" y="318" width="5" height="9" fill="#089981"/>
<rect x="1000" y="317" width="1" height="4" fill="#f23645"/>
<rect x="998" y="318" width="5" height="2" fill="#f23645"/>
<rect x="1007" y="312" width="1" height="10" fill="#089981"/>
<rect x="1005" y="312" width="5" height="8" fill="#089981"/>
<rect x="1013" y="311" width="1" height="7" fill="#089981"/>
<rect x="1011" y="311" width="5" height="1" fill="#089981"/>
<rect x="1020" y="305" width="1" height="9" fill="#089981"/>
<rect x="1018" y="306" width="5" height="7" fill="#089981"/>
<rect x="1027" y="297" width="1" height="13" fill="#089981"/>
<rect x="1025" y="299" width="5" height="7" fill="#089981"/>
<rect x="1034" y="288" width="1" height="13" fill="#089981"/>
<rect x="1032" y="291" width="5" height="8" fill="#089981"/>
<rect x="1040" y="275" width="1" height="17" fill="#089981"/>
<rect x="1038" y="277" width="5" height="14" fill="#089981"/>
<rect x="1047" y="265" width="1" height="13" fill="#089981"/>
<rect x="1045" y="270" width="5" height="8" fill="#089981"/>
<rect x="1054" y="269" width="1" height="13" fill="#f23645"/>
<rect x="1052" y="270" width="5" height="4" fill="#f23645"/>
<rect x="1060" y="259" width="1" height="15" fill="#089981"/>
<rect x="1058" y="263" width="5" height="11" fill="#089981"/>
<rect x="1067" y="248" width="1" height="17" fill="#089981"/>
<rect x="1065" y="250" width="5" height="15" fill="#089981"/>
<rect x="1074" y="240" width="1" height="14" fill="#f23645"/>
<rect x="1072" y="250" width="5" height="4" fill="#f23645"/>
<rect x="1080" y="245" width="1" height="10" fill="#089981"/>
<rect x="1078" y="249" width="5" height="5" fill="#089981"/>
<rect x="1087" y="247" width="1" height="9" fill="#f23645"/>
<rect x="1085" y="249" width="5" height="3" fill="#f23645"/>
<rect x="1094" y="245" width="1" height="7" fill="#089981"/>
<rect x="1092" y="248" width="5" height="4" fill="#089981"/>
<rect x="1101" y="238" width="1" height="15" fill="#089981"/>
<rect x="1099" y="240" width="5" height="9" fill="#089981"/>
<rect x="1107" y="233" width="1" height="6" fill="#089981"/>
<rect x="1105" y="236" width="5" height="3" fill="#089981"/>
<rect x="1114" y="232" width="1" height="16" fill="#f23645"/>
<rect x="1112" y="236" width="5" height="10" fill="#f23645"/>
<rect x="1121" y="241" width="1" height="11" fill="#f23645"/>
<rect x="1119" y="244" width="5" height="5" fill="#f23645"/>
<rect x="1127" y="238" width="1" height="13" fill="#089981"/>
<rect x="1125" y="238" width="5" height="11" fill="#089981"/>
<rect x="1134" y="221" width="1" height="18" fill="#089981"/>
<rect x="1132" y="222" width="5" height="17" fill="#089981"/>
<rect x="1141" y="211" width="1" height="14" fill="#089981"/>
<rect x="1139" y="217" width="5" height="6" fill="#089981"/>
<rect x="1148" y="214" width="1" height="15" fill="#f23645"/>
<rect x="1146" y="217" width="5" height="9" fill="#f23645"/>
<rect x="1154" y="218" width="1" height="10" fill="#089981"/>
<rect x="1152" y="221" width="5" height="5" fill="#089981"/>
<rect x="1161" y="212" width="1" height="13" fill="#089981"/>
<rect x="1159" y="218" width="5" height="4" fill="#089981"/>
<rect x="1168" y="200" width="1" height="20" fill="#089981"/>
<rect x="1166" y="200" width="5" height="20" fill="#089981"/>
<rect x="1174" y="190" width="1" height="20" fill="#089981"/>
<rect x="1172" y="193" width="5" height="7" fill="#089981"/>
<rect x="1181" y="184" width="1" height="11" fill="#089981"/>
<rect x="1179" y="191" width="5" height="3" fill="#089981"/>
<rect x="1188" y="183" width="1" height="20" fill="#f23645"/>
<rect x="1186" y="191" width="5" height="4" fill="#f23645"/>
<rect x="1194" y="185" width="1" height="14" fill="#089981"/>
<rect x="1192" y="186" width="5" height="9" fill="#089981"/>
<rect x="1201" y="165" width="1" height="21" fill="#089981"/>
<rect x="1199" y="167" width="5" height="19" fill="#089981"/>
<rect x="1208" y="160" width="1" height="11" fill="#089981"/>
<rect x="1206" y="161" width="5" height="7" fill="#089981"/>
<rect x="1215" y="142" width="1" height="20" fill="#089981"/>
<rect x="1213" y="146" width="5" height="16" fill="#089981"/>
<rect x="1221" y="142" width="1" height="29" fill="#f23645"/>
<rect x="1219" y="146" width="5" height="18" fill="#f23645"/>
<rect x="1228" y="151" width="1" height="13" fill="#089981"/>
<rect x="1226" y="152" width="5" height="12" fill="#089981"/>
<rect x="1235" y="127" width="1" height="31" fill="#089981"/>
<rect x="1233" y="129" width="5" height="29" fill="#089981"/>
<rect x="1241" y="111" width="1" height="23" fill="#089981"/>
<rect x="1239" y="121" width="5" height="8" fill="#089981"/>
<rect x="1248" y="101" width="1" height="20" fill="#089981"/>
<rect x="1246" y="104" width="5" height="17" fill="#089981"/>
<rect x="1255" y="72" width="1" height="34" fill="#089981"/>
<rect x="1253" y="73" width="5" height="31" fill="#089981"/>
<rect x="1262" y="60" width="1" height="49" fill="#f23645"/>
<rect x="1260" y="72" width="5" height="21" fill="#f23645"/>
<rect x="1268" y="59" width="1" height="42" fill="#089981"/>
<rect x="1266" y="66" width="5" height="27" fill="#089981"/>
<rect x="1275" y="61" width="1" height="75" fill="#f23645"/>
<rect x="1273" y="66" width="5" height="60" fill="#f23645"/>
<rect x="1282" y="116" width="1" height="40" fill="#f23645"/>
<rect x="1280" y="125" width="5" height="8" fill="#f23645"/>
<rect x="1288" y="117" width="1" height="23" fill="#089981"/>
<rect x="1286" y="125" width="5" height="7" fill="#089981"/>
<rect x="1295" y="120" width="1" height="26" fill="#f23645"/>
<rect x="1293" y="126" width="5" height="3" fill="#f23645"/>
<rect x="1302" y="129" width="1" height="34" fill="#f23645"/>
<rect x="1300" y="134" width="5" height="29" fill="#f23645"/>
<rect x="1309" y="152" width="1" height="34" fill="#f23645"/>
<rect x="1307" y="161" width="5" height="9" fill="#f23645"/>
<rect x="1315" y="149" width="1" height="31" fill="#f23645"/>
<rect x="1313" y="169" width="5" height="7" fill="#f23645"/>
<rect x="1322" y="150" width="1" height="28" fill="#089981"/>
<rect x="1320" y="151" width="5" height="25" fill="#089981"/>
<rect x="1329" y="145" width="1" height="19" fill="#f23645"/>
<rect x="1327" y="151" width="5" height="6" fill="#f23645"/>
<rect x="1335" y="149" width="1" height="18" fill="#089981"/>
<rect x="1333" y="154" width="5" height="7" fill="#089981"/>
<rect x="1342" y="154" width="1" height="20" fill="#f23645"/>
<rect x="1340" y="154" width="5" height="20" fill="#f23645"/>
<rect x="1349" y="159" width="1" height="15" fill="#089981"/>
<rect x="1347" y="161" width="5" height="13" fill="#089981"/>
<rect x="1355" y="152" width="1" height="14" fill="#f23645"/>
<rect x="1353" y="161" width="5" height="1" fill="#f23645"/>
<rect x="1362" y="150" width="1" height="14" fill="#089981"/>
<rect x="1360" y="156" width="5" height="7" fill="#089981"/>
<rect x="1369" y="127" width="1" height="31" fill="#089981"/>
<rect x="1367" y="128" width="5" height="30" fill="#089981"/>
<rect x="1376" y="119" width="1" height="13" fill="#089981"/>
<rect x="1374" y="124" width="5" height="5" fill="#089981"/>
<rect x="1382" y="103" width="1" height="29" fill="#089981"/>
<rect x="1380" y="107" width="5" height="18" fill="#089981"/>
<rect x="1389" y="94" width="1" height="26" fill="#f23645"/>
<rect x="1387" y="107" width="5" height="9" fill="#f23645"/>
<rect x="1396" y="103" width="1" height="46" fill="#f23645"/>
<rect x="1394" y="115" width="5" height="21" fill="#f23645"/>
<rect x="1402" y="129" width="1" height="25" fill="#f23645"/>
<rect x="1400" y="135" width="5" height="13" fill="#f23645"/>
<rect x="1409" y="136" width="1" height="21" fill="#089981"/>
<rect x="1407" y="139" width="5" height="9" fill="#089981"/>
<rect x="1416" y="123" width="1" height="19" fill="#089981"/>
<rect x="1414" y="138" width="5" height="1" fill="#089981"/>
<rect x="1423" y="129" width="1" height="18" fill="#089981"/>
<rect x="1421" y="137" width="5" height="1" fill="#089981"/>
<rect x="1429" y="131" width="1" height="19" fill="#f23645"/>
<rect x="1427" y="138" width="5" height="3" fill="#f23645"/>
<rect x="1436" y="123" width="1" height="24" fill="#089981"/>
<rect x="1434" y="123" width="5" height="18" fill="#089981"/>
<rect x="1443" y="116" width="1" height="13" fill="#f23645"/>
<rect x="1441" y="123" width="5" height="1" fill="#f23645"/>
<rect x="1449" y="113" width="1" height="11" fill="#089981"/>
<rect x="1447" y="115" width="5" height="9" fill="#089981"/>
<rect x="1456" y="114" width="1" height="6" fill="#f23645"/>
<rect x="1454" y="115" width="5" height="3" fill="#f23645"/>
<rect x="1463" y="100" width="1" height="17" fill="#089981"/>
<rect x="1461" y="101" width="5" height="16" fill="#089981"/>
<rect x="1469" y="89" width="1" height="15" fill="#089981"/>
<rect x="1467" y="96" width="5" height="5" fill="#089981"/>
<rect x="1476" y="95" width="1" height="19" fill="#f23645"/>
<rect x="1474" y="96" width="5" height="8" fill="#f23645"/>
<rect x="1483" y="95" width="1" height="12" fill="#f23645"/>
<rect x="1481" y="103" width="5" height="2" fill="#f23645"/>
<rect x="1490" y="101" width="1" height="11" fill="#089981"/>
<rect x="1488" y="102" width="5" height="1" fill="#089981"/>
<rect x="1496" y="91" width="1" height="15" fill="#f23645"/>
<rect x="1494" y="103" width="5" height="3" fill="#f23645"/>
<rect x="1503" y="101" width="1" height="11" fill="#f23645"/>
<rect x="1501" y="106" width="5" height="2" fill="#f23645"/>
<rect x="1510" y="100" width="1" height="13" fill="#089981"/>
<rect x="1508" y="103" width="5" height="5" fill="#089981"/>
<rect x="1516" y="96" width="1" height="14" fill="#089981"/>
<rect x="1514" y="98" width="5" height="6" fill="#089981"/>
<rect x="1523" y="84" width="1" height="21" fill="#089981"/>
<rect x="1521" y="86" width="5" height="13" fill="#089981"/>
<rect x="1530" y="66" width="1" height="24" fill="#089981"/>
<rect x="1528" y="80" width="5" height="7" fill="#089981"/>
<rect x="1537" y="67" width="1" height="17" fill="#089981"/>
<rect x="1535" y="79" width="5" height="2" fill="#089981"/>
</g>
<line x1="1" y1="78.5" x2="1607" y2="78.5" stroke="#089981" stroke-width="1" stroke-dasharray="1 2" shape-rendering="crispEdges"/>
<defs><clipPath id="above"><rect x="0" y="0" width="1670" height="674"/></clipPath>
<clipPath id="below"><rect x="0" y="673" width="1670" height="100"/></clipPath></defs>
<g clip-path="url(#ind)">
<polygon points="0.0,674.0 0.0,665.2 13.3,665.2 20.9,645.1 27.4,645.4 40.7,651.6 46.9,651.6 53.9,661.0 73.4,661.0 87.5,666.1 99.0,666.3 107.9,667.9 120.3,667.9 129.1,668.8 139.7,669.3 148.6,671.1 173.3,670.2 182.2,671.6 190.1,672.0 201.6,681.2 248.5,681.2 254.7,659.2 268.0,659.6 288.4,653.1 301.9,656.0 310.2,655.5 315.3,656.5 322.0,655.2 329.5,658.5 337.0,656.8 348.8,657.7 362.2,653.1 369.8,647.1 375.6,649.3 402.5,649.3 409.2,647.4 476.2,647.4 483.0,651.5 496.4,651.8 504.7,650.5 509.8,650.5 516.5,654.3 529.9,653.5 536.6,658.2 550.0,658.5 556.7,661.0 565.1,658.8 571.8,658.2 578.5,656.8 584.4,656.3 590.2,657.7 603.7,663.2 612.0,663.9 617.1,664.9 623.8,663.9 630.5,665.5 678.3,665.5 684.1,662.4 691.7,662.4 698.4,665.5 705.1,666.9 712.6,664.9 724.4,663.0 732.8,664.4 751.2,665.2 759.6,664.4 784.7,664.4 798.2,661.0 813.2,658.2 818.3,657.7 825.8,655.2 830.0,656.0 878.6,656.5 886.2,647.1 892.0,647.1 899.6,655.2 906.3,656.3 913.0,656.3 919.7,660.2 925.6,660.2 933.1,661.0 953.2,661.5 960.0,665.2 972.5,665.7 986.8,666.0 993.5,667.4 1000.2,668.2 1014.4,668.6 1020.3,669.7 1027.0,672.3 1032.9,673.3 1046.3,673.3 1054.7,677.3 1064.7,678.6 1114.3,678.4 1120.5,694.0 1127.7,694.0 1134.4,690.3 1145.3,673.0 1154.5,666.7 1160.4,657.1 1167.9,649.6 1174.6,637.0 1181.3,632.3 1188.0,622.7 1194.7,619.4 1201.4,614.8 1208.1,610.5 1214.9,609.3 1221.6,609.6 1228.3,604.8 1234.1,602.1 1241.7,602.1 1248.4,599.8 1255.1,599.3 1261.8,596.7 1268.5,595.9 1315.5,595.9 1321.3,668.0 1328.0,667.7 1334.7,660.8 1342.3,661.6 1354.9,661.0 1361.6,657.9 1370.0,657.6 1375.7,656.9 1381.9,657.1 1388.8,651.4 1396.2,648.3 1402.4,643.4 1409.3,645.5 1416.1,646.6 1422.3,646.8 1429.2,644.1 1436.0,642.3 1442.2,646.0 1516.8,646.0 1522.5,677.9 1530.4,677.9 1537.3,671.7 1537.3,674.0" fill="#2e8b57" clip-path="url(#above)"/>
<polygon points="0.0,673.0 0.0,665.2 13.3,665.2 20.9,645.1 27.4,645.4 40.7,651.6 46.9,651.6 53.9,661.0 73.4,661.0 87.5,666.1 99.0,666.3 107.9,667.9 120.3,667.9 129.1,668.8 139.7,669.3 148.6,671.1 173.3,670.2 182.2,671.6 190.1,672.0 201.6,681.2 248.5,681.2 254.7,659.2 268.0,659.6 288.4,653.1 301.9,656.0 310.2,655.5 315.3,656.5 322.0,655.2 329.5,658.5 337.0,656.8 348.8,657.7 362.2,653.1 369.8,647.1 375.6,649.3 402.5,649.3 409.2,647.4 476.2,647.4 483.0,651.5 496.4,651.8 504.7,650.5 509.8,650.5 516.5,654.3 529.9,653.5 536.6,658.2 550.0,658.5 556.7,661.0 565.1,658.8 571.8,658.2 578.5,656.8 584.4,656.3 590.2,657.7 603.7,663.2 612.0,663.9 617.1,664.9 623.8,663.9 630.5,665.5 678.3,665.5 684.1,662.4 691.7,662.4 698.4,665.5 705.1,666.9 712.6,664.9 724.4,663.0 732.8,664.4 751.2,665.2 759.6,664.4 784.7,664.4 798.2,661.0 813.2,658.2 818.3,657.7 825.8,655.2 830.0,656.0 878.6,656.5 886.2,647.1 892.0,647.1 899.6,655.2 906.3,656.3 913.0,656.3 919.7,660.2 925.6,660.2 933.1,661.0 953.2,661.5 960.0,665.2 972.5,665.7 986.8,666.0 993.5,667.4 1000.2,668.2 1014.4,668.6 1020.3,669.7 1027.0,672.3 1032.9,673.3 1046.3,673.3 1054.7,677.3 1064.7,678.6 1114.3,678.4 1120.5,694.0 1127.7,694.0 1134.4,690.3 1145.3,673.0 1154.5,666.7 1160.4,657.1 1167.9,649.6 1174.6,637.0 1181.3,632.3 1188.0,622.7 1194.7,619.4 1201.4,614.8 1208.1,610.5 1214.9,609.3 1221.6,609.6 1228.3,604.8 1234.1,602.1 1241.7,602.1 1248.4,599.8 1255.1,599.3 1261.8,596.7 1268.5,595.9 1315.5,595.9 1321.3,668.0 1328.0,667.7 1334.7,660.8 1342.3,661.6 1354.9,661.0 1361.6,657.9 1370.0,657.6 1375.7,656.9 1381.9,657.1 1388.8,651.4 1396.2,648.3 1402.4,643.4 1409.3,645.5 1416.1,646.6 1422.3,646.8 1429.2,644.1 1436.0,642.3 1442.2,646.0 1516.8,646.0 1522.5,677.9 1530.4,677.9 1537.3,671.7 1537.3,673.0" fill="#e50000" clip-path="url(#below)"/>
<line x1="2" y1="673.5" x2="1537" y2="673.5" stroke="#b4b7bc" stroke-width="1" stroke-dasharray="3 3" shape-rendering="crispEdges"/>
<polyline points="0.0,665.2 13.3,665.2 20.9,645.1 27.4,645.4 40.7,651.6 46.9,651.6 53.9,661.0 73.4,661.0 87.5,666.1 99.0,666.3 107.9,667.9 120.3,667.9 129.1,668.8 139.7,669.3 148.6,671.1 173.3,670.2 182.2,671.6 190.1,672.0 201.6,681.2 248.5,681.2 254.7,659.2 268.0,659.6 288.4,653.1 301.9,656.0 310.2,655.5 315.3,656.5 322.0,655.2 329.5,658.5 337.0,656.8 348.8,657.7 362.2,653.1 369.8,647.1 375.6,649.3 402.5,649.3 409.2,647.4 476.2,647.4 483.0,651.5 496.4,651.8 504.7,650.5 509.8,650.5 516.5,654.3 529.9,653.5 536.6,658.2 550.0,658.5 556.7,661.0 565.1,658.8 571.8,658.2 578.5,656.8 584.4,656.3 590.2,657.7 603.7,663.2 612.0,663.9 617.1,664.9 623.8,663.9 630.5,665.5 678.3,665.5 684.1,662.4 691.7,662.4 698.4,665.5 705.1,666.9 712.6,664.9 724.4,663.0 732.8,664.4 751.2,665.2 759.6,664.4 784.7,664.4 798.2,661.0 813.2,658.2 818.3,657.7 825.8,655.2 830.0,656.0 878.6,656.5 886.2,647.1 892.0,647.1 899.6,655.2 906.3,656.3 913.0,656.3 919.7,660.2 925.6,660.2 933.1,661.0 953.2,661.5 960.0,665.2 972.5,665.7 986.8,666.0 993.5,667.4 1000.2,668.2 1014.4,668.6 1020.3,669.7 1027.0,672.3 1032.9,673.3 1046.3,673.3 1054.7,677.3 1064.7,678.6 1114.3,678.4 1120.5,694.0 1127.7,694.0 1134.4,690.3 1145.3,673.0 1154.5,666.7 1160.4,657.1 1167.9,649.6 1174.6,637.0 1181.3,632.3 1188.0,622.7 1194.7,619.4 1201.4,614.8 1208.1,610.5 1214.9,609.3 1221.6,609.6 1228.3,604.8 1234.1,602.1 1241.7,602.1 1248.4,599.8 1255.1,599.3 1261.8,596.7 1268.5,595.9 1315.5,595.9 1321.3,668.0 1328.0,667.7 1334.7,660.8 1342.3,661.6 1354.9,661.0 1361.6,657.9 1370.0,657.6 1375.7,656.9 1381.9,657.1 1388.8,651.4 1396.2,648.3 1402.4,643.4 1409.3,645.5 1416.1,646.6 1422.3,646.8 1429.2,644.1 1436.0,642.3 1442.2,646.0 1516.8,646.0 1522.5,677.9 1530.4,677.9 1537.3,671.7" fill="none" stroke="rgba(0,0,0,0.72)" stroke-width="1.6" stroke-linejoin="round"/>
</g>
<g shape-rendering="crispEdges">
<rect x="0" y="583" width="1668" height="1" fill="#e0e3eb"/>
<rect x="0" y="0" width="1670" height="2" fill="#edeff3"/>
<rect x="0" y="0" width="2" height="735" fill="#edeff3"/>
<rect x="1668" y="0" width="2" height="735" fill="#edeff3"/>
<rect x="0" y="733" width="1670" height="2" fill="#edeff3"/>
</g>
<text x="1615.5" y="3.9" fill="#131722" stroke="#131722" stroke-width="0.3" font-size="12.5" dominant-baseline="central">4600.00</text>
<text x="1615.5" y="106.4" fill="#131722" stroke="#131722" stroke-width="0.3" font-size="12.5" dominant-baseline="central">4200.00</text>
<text x="1615.5" y="157.6" fill="#131722" stroke="#131722" stroke-width="0.3" font-size="12.5" dominant-baseline="central">4000.00</text>
<text x="1615.5" y="260.1" fill="#131722" stroke="#131722" stroke-width="0.3" font-size="12.5" dominant-baseline="central">3600.00</text>
<text x="1615.5" y="311.3" fill="#131722" stroke="#131722" stroke-width="0.3" font-size="12.5" dominant-baseline="central">3400.00</text>
<text x="1615.5" y="362.5" fill="#131722" stroke="#131722" stroke-width="0.3" font-size="12.5" dominant-baseline="central">3200.00</text>
<text x="1615.5" y="413.8" fill="#131722" stroke="#131722" stroke-width="0.3" font-size="12.5" dominant-baseline="central">3000.00</text>
<text x="1615.5" y="465.0" fill="#131722" stroke="#131722" stroke-width="0.3" font-size="12.5" dominant-baseline="central">2800.00</text>
<text x="1615.5" y="516.2" fill="#131722" stroke="#131722" stroke-width="0.3" font-size="12.5" dominant-baseline="central">2600.00</text>
<text x="1615.5" y="567.5" fill="#131722" stroke="#131722" stroke-width="0.3" font-size="12.5" dominant-baseline="central">2400.00</text>
<text x="1615.5" y="601.2" fill="#131722" stroke="#131722" stroke-width="0.3" font-size="12.5" dominant-baseline="central">160.00</text>
<text x="1615.5" y="649.8" fill="#131722" stroke="#131722" stroke-width="0.3" font-size="12.5" dominant-baseline="central">120.00</text>
<text x="1615.5" y="698.2" fill="#131722" stroke="#131722" stroke-width="0.3" font-size="12.5" dominant-baseline="central">80.00</text>
<path d="M1607,50 h58 a2,2 0 0 1 2,2 v15 a2,2 0 0 1 -2,2 h-58 z" fill="#000"/><text x="1615.5" y="60.3" fill="#fff" stroke="#fff" stroke-width="0.35" font-size="12.5" dominant-baseline="central">4381.67</text>
<path d="M1607,69 h58 a2,2 0 0 1 2,2 v15 a2,2 0 0 1 -2,2 h-58 z" fill="#089981"/><text x="1615.5" y="79.3" fill="#fff" stroke="#fff" stroke-width="0.35" font-size="12.5" dominant-baseline="central">4307.41</text>
<path d="M1607,117 h58 a2,2 0 0 1 2,2 v15 a2,2 0 0 1 -2,2 h-58 z" fill="#ff6d00"/><text x="1615.5" y="127.3" fill="#fff" stroke="#fff" stroke-width="0.35" font-size="12.5" dominant-baseline="central">4121.98</text>
<path d="M1607,177 h58 a2,2 0 0 1 2,2 v15 a2,2 0 0 1 -2,2 h-58 z" fill="#000"/><text x="1615.5" y="187.3" fill="#fff" stroke="#fff" stroke-width="0.35" font-size="12.5" dominant-baseline="central">3886.62</text>
<path d="M1607,196 h58 a2,2 0 0 1 2,2 v14 a2,2 0 0 1 -2,2 h-58 z" fill="#2196f3"/><text x="1615.5" y="205.8" fill="#fff" stroke="#fff" stroke-width="0.35" font-size="12.5" dominant-baseline="central">3829.71</text>
<path d="M1607,265 h58 a2,2 0 0 1 2,2 v15 a2,2 0 0 1 -2,2 h-58 z" fill="#26c6da"/><text x="1615.5" y="275.3" fill="#131722" stroke="#131722" stroke-width="0.35" font-size="12.5" dominant-baseline="central">3542.74</text>
<path d="M1607,284 h58 a2,2 0 0 1 2,2 v14 a2,2 0 0 1 -2,2 h-58 z" fill="#000"/><text x="1615.5" y="293.8" fill="#fff" stroke="#fff" stroke-width="0.35" font-size="12.5" dominant-baseline="central">3500.14</text>
<path d="M1607,663 h50 a2,2 0 0 1 2,2 v14 a2,2 0 0 1 -2,2 h-50 z" fill="#000"/><text x="1616.0" y="672.8" fill="#fff" stroke="#fff" stroke-width="0.35" font-size="12.5" dominant-baseline="central">101.39</text>
<path d="M1607,681 h50 a2,2 0 0 1 2,2 v14 a2,2 0 0 1 -2,2 h-50 z" fill="#a6a6a6"/><text x="1616.0" y="690.8" fill="#131722" stroke="#131722" stroke-width="0.35" font-size="12.5" dominant-baseline="central">100.00</text>
<text x="34.5" y="724" fill="#131722" stroke="#131722" stroke-width="0.3" font-size="12.5" text-anchor="middle">Feb</text>
<text x="168.5" y="724" fill="#131722" stroke="#131722" stroke-width="0.3" font-size="12.5" text-anchor="middle">Mar</text>
<text x="309.5" y="724" fill="#131722" stroke="#131722" stroke-width="0.3" font-size="12.5" text-anchor="middle">Apr</text>
<text x="450.5" y="724" fill="#131722" stroke="#131722" stroke-width="0.3" font-size="12.5" text-anchor="middle">May</text>
<text x="598.5" y="724" fill="#131722" stroke="#131722" stroke-width="0.3" font-size="12.5" text-anchor="middle">Jun</text>
<text x="738.5" y="724" fill="#131722" stroke="#131722" stroke-width="0.3" font-size="12.5" text-anchor="middle">Jul</text>
<text x="893.5" y="724" fill="#131722" stroke="#131722" stroke-width="0.3" font-size="12.5" text-anchor="middle">Aug</text>
<text x="1034.5" y="724" fill="#131722" stroke="#131722" stroke-width="0.3" font-size="12.5" text-anchor="middle">Sep</text>
<text x="1181.5" y="724" fill="#131722" stroke="#131722" stroke-width="0.3" font-size="12.5" text-anchor="middle">Oct</text>
<text x="1335.5" y="724" fill="#131722" stroke="#131722" stroke-width="0.3" font-size="12.5" text-anchor="middle">Nov</text>
<text x="1469.5" y="724" fill="#131722" stroke="#131722" stroke-width="0.3" font-size="12.5" text-anchor="middle">Dec</text>
<text x="1557.5" y="724" fill="#131722" stroke="#131722" stroke-width="0.3" font-size="12.5" text-anchor="middle">18</text>
<text x="9.0" y="21.0" fill="#131722" font-size="12.5" font-weight="normal" textLength="73.6" lengthAdjust="spacingAndGlyphs">XAU/USD, 1D</text>
<text x="90.7" y="21.0" fill="#131722" font-size="12.5" font-weight="normal">O</text>
<text x="99.7" y="21.0" fill="#089981" font-size="12.5" font-weight="normal" textLength="43.1" lengthAdjust="spacingAndGlyphs">4301.61</text>
<text x="151.2" y="21.0" fill="#131722" font-size="12.5" font-weight="normal">H</text>
<text x="159.6" y="21.0" fill="#089981" font-size="12.5" font-weight="normal" textLength="43.1" lengthAdjust="spacingAndGlyphs">4350.32</text>
<text x="211.7" y="21.0" fill="#131722" font-size="12.5" font-weight="normal">L</text>
<text x="217.7" y="21.0" fill="#089981" font-size="12.5" font-weight="normal" textLength="43.4" lengthAdjust="spacingAndGlyphs">4285.26</text>
<text x="269.5" y="21.0" fill="#131722" font-size="12.5" font-weight="normal">C</text>
<text x="277.0" y="21.0" fill="#089981" font-size="12.5" font-weight="normal" textLength="43.4" lengthAdjust="spacingAndGlyphs">4307.41</text>
<text x="329.3" y="21.0" fill="#089981" font-size="12.5" font-weight="normal" textLength="30.0" lengthAdjust="spacingAndGlyphs">+7.97</text>
<text x="364.4" y="21.0" fill="#089981" font-size="12.5" font-weight="normal" textLength="47.3" lengthAdjust="spacingAndGlyphs">(+0.19%)</text>
<text x="9.0" y="39.0" fill="#131722" font-size="12.5" font-weight="normal" textLength="251.5" lengthAdjust="spacingAndGlyphs">Moving Average Triple (50, 100, 200, Simple)</text>
<text x="268.6" y="39.0" fill="#ff6d00" font-size="12.5" font-weight="normal" textLength="43.7" lengthAdjust="spacingAndGlyphs">4121.98</text>
<text x="320.4" y="39.0" fill="#2196f3" font-size="12.5" font-weight="normal" textLength="43.4" lengthAdjust="spacingAndGlyphs">3829.71</text>
<text x="372.2" y="39.0" fill="#26c6da" font-size="12.5" font-weight="normal" textLength="44.0" lengthAdjust="spacingAndGlyphs">3542.74</text>
<text x="9.0" y="57.0" fill="#131722" font-size="12.5" font-weight="normal" textLength="156.3" lengthAdjust="spacingAndGlyphs">Pivots (Traditional, Daily, 1)</text>
<text x="9.2" y="604.0" fill="#131722" font-size="12.5" font-weight="normal" textLength="180.9" lengthAdjust="spacingAndGlyphs">FXS Fed Sentiment Index (close)</text>
<g stroke="#000" stroke-width="0.35"><text x="199.0" y="604.0" fill="#000" font-size="12.5" font-weight="normal" textLength="36.6" lengthAdjust="spacingAndGlyphs">101.39</text></g>
<text x="244.0" y="604.0" fill="#9e9e9e" font-size="12.5" font-weight="normal" textLength="37.0" lengthAdjust="spacingAndGlyphs">100.00</text>
</svg></body></html>
